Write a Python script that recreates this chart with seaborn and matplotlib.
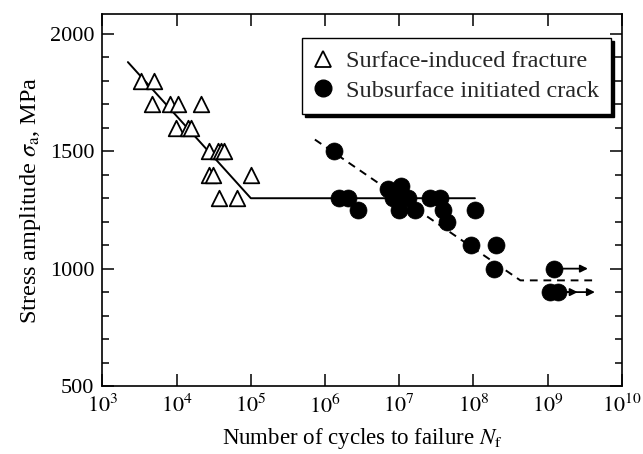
import numpy as np
import pandas as pd
import matplotlib
matplotlib.use("Agg")
import matplotlib.pyplot as plt
from matplotlib.lines import Line2D
from matplotlib.ticker import FixedLocator, NullLocator, NullFormatter
import seaborn as sns

# Surface-induced fracture (open triangles)
surf_N = [3.3e3, 5.0e3,
          4.7e3, 8.1e3, 1.05e4, 2.1e4,
          9.7e3, 1.43e4, 1.55e4,
          2.7e4, 3.6e4, 4.0e4, 4.3e4,
          2.7e4, 3.1e4, 9.9e4,
          3.7e4, 6.5e4]
surf_sigma = [1800, 1800,
              1700, 1700, 1700, 1700,
              1600, 1600, 1600,
              1500, 1500, 1500, 1500,
              1400, 1400, 1400,
              1300, 1300]

# Subsurface initiated crack (filled circles)
sub_N = [1.33e6, 1.55e6, 2.05e6, 2.8e6,
         7.1e6, 1.07e7, 8.3e6, 1.32e7, 9.8e6, 1.62e7,
         2.6e7, 3.5e7, 3.9e7, 4.4e7,
         1.05e8, 9.2e7, 2.05e8, 1.9e8,
         1.23e9, 1.07e9, 1.38e9]
sub_sigma = [1500, 1300, 1300, 1250,
             1340, 1350, 1300, 1300, 1250, 1250,
             1300, 1300, 1250, 1200,
             1250, 1100, 1100, 1000,
             1000, 900, 900]

# Run-out specimens (arrows to the right)
runout_N = [1.23e9, 1.07e9, 1.38e9]
runout_sigma = [1000, 900, 900]
runout_end = [3.5e9, 2.55e9, 4.35e9]

# S-N curves
surf_curve_N = [2.2e3, 1.0e5, 1.05e8]
surf_curve_sigma = [1880, 1300, 1300]
sub_curve_N = [7.3e5, 4.3e8, 4.4e9]
sub_curve_sigma = [1550, 950, 950]

x_ticks = [1e3, 1e4, 1e5, 1e6, 1e7, 1e8, 1e9, 1e10]
x_ticklabels = [r"$10^{3}$", r"$10^{4}$", r"$10^{5}$", r"$10^{6}$",
                r"$10^{7}$", r"$10^{8}$", r"$10^{9}$", r"$10^{10}$"]
y_ticks = [500, 1000, 1500, 2000]
y_minor = list(range(500, 2100, 100))

sns.set_theme(style="ticks")
plt.rcParams["font.family"] = ["Liberation Serif", "DejaVu Serif"]
plt.rcParams["mathtext.fontset"] = "stix"
plt.rcParams["font.size"] = 16

fig = plt.figure(figsize=(6.43, 4.54), dpi=100)
ax = fig.add_axes([0.1594, 0.1498, 0.8075, 0.8194])

surf_df = pd.DataFrame({"N": surf_N, "sigma": surf_sigma})
sub_df = pd.DataFrame({"N": sub_N, "sigma": sub_sigma})

# S-N curves
ax.plot(surf_curve_N, surf_curve_sigma, color="black", lw=1.4, zorder=2)
ax.plot(sub_curve_N, sub_curve_sigma, color="black", lw=1.4,
        dashes=(4, 3), zorder=2)

# run-out arrows
for n0, s0, n1 in zip(runout_N, runout_sigma, runout_end):
    ax.annotate("", xy=(n1, s0), xytext=(n0, s0),
                arrowprops=dict(arrowstyle="-|>", color="black", lw=1.3,
                                mutation_scale=11, shrinkA=0, shrinkB=0),
                zorder=3)

sns.scatterplot(data=surf_df, x="N", y="sigma", marker="^", s=125,
                facecolor="white", edgecolor="black", linewidth=1.3,
                ax=ax, zorder=4, legend=False)
sns.scatterplot(data=sub_df, x="N", y="sigma", marker="o", s=150,
                color="black", edgecolor="black", linewidth=0.5,
                ax=ax, zorder=5, legend=False)

ax.set_xscale("log")
ax.set_xlim(1e3, 1e10)
ax.set_ylim(500, 2085)

ax.xaxis.set_major_locator(FixedLocator(x_ticks))
ax.set_xticklabels(x_ticklabels)
ax.xaxis.set_minor_locator(NullLocator())
ax.xaxis.set_minor_formatter(NullFormatter())
ax.yaxis.set_major_locator(FixedLocator(y_ticks))
ax.set_yticklabels([str(v) for v in y_ticks])
ax.yaxis.set_minor_locator(FixedLocator(y_minor))

ax.tick_params(which="both", direction="in", top=True, right=True,
               width=1.1, color="black", labelsize=16, labelcolor="black")
ax.tick_params(which="major", length=8.5, pad=6)
ax.tick_params(which="minor", length=5)

for sp in ax.spines.values():
    sp.set_linewidth(1.2)
    sp.set_color("black")

ax.set_xlabel(r"Number of cycles to failure $N_{\rm f}$", fontsize=16.5,
              color="black", labelpad=6)
ax.set_ylabel(r"Stress amplitude $\sigma_{\rm a}$, MPa", fontsize=17.5,
              color="black", labelpad=5)

handles = [
    Line2D([], [], linestyle="none", marker="^", markersize=11,
           markerfacecolor="white", markeredgecolor="black",
           markeredgewidth=1.3),
    Line2D([], [], linestyle="none", marker="o", markersize=12,
           markerfacecolor="black", markeredgecolor="black"),
]
leg = ax.legend(handles, ["Surface-induced fracture",
                          "Subsurface initiated crack"],
                loc="upper right", bbox_to_anchor=(0.979, 0.935),
                borderaxespad=0, fancybox=False, frameon=True,
                edgecolor="black", framealpha=1, fontsize=17.5,
                handlelength=0.7, handletextpad=0.6, labelspacing=0.3,
                borderpad=0.5,
                shadow={"color": "black", "alpha": 1})
leg.get_frame().set_linewidth(1.0)

fig.savefig("out.png", dpi=100)
